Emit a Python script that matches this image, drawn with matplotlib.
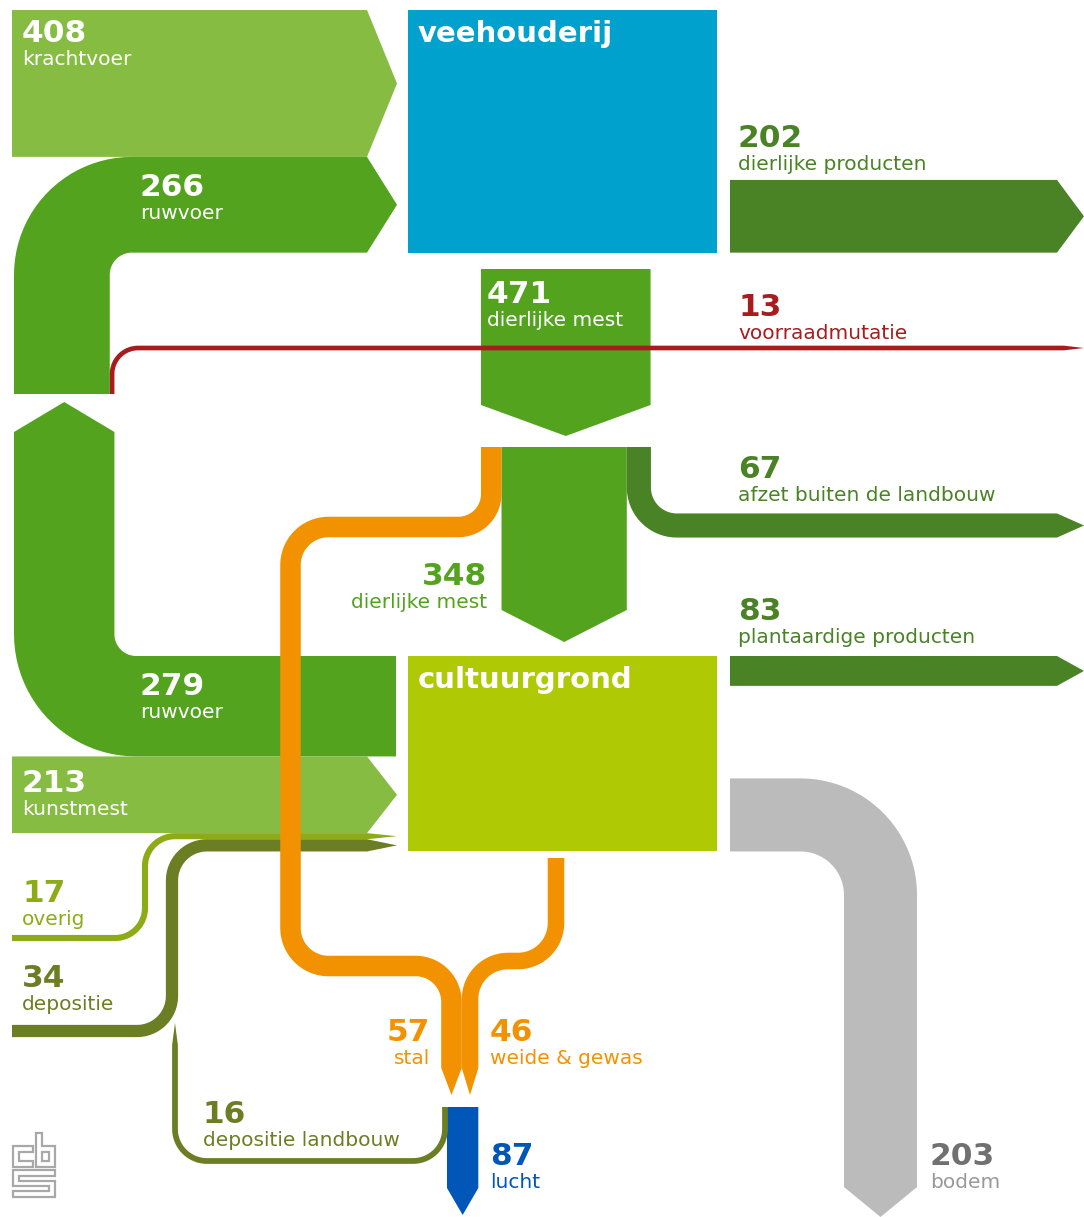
import numpy as np
import matplotlib
matplotlib.use("Agg")
import matplotlib.pyplot as plt
from matplotlib.patches import Polygon, Rectangle

# ---------------- data (mln kg stikstof) ----------------
node_names = ["veehouderij", "cultuurgrond"]
feed_labels = ["krachtvoer", "ruwvoer", "ruwvoer"]
feed_values = [408, 266, 279]
manure_labels = ["dierlijke mest", "dierlijke mest", "afzet buiten de landbouw"]
manure_values = [471, 348, 67]
product_labels = ["dierlijke producten", "plantaardige producten"]
product_values = [202, 83]
soil_input_labels = ["kunstmest", "overig", "depositie"]
soil_input_values = [213, 17, 34]
emission_labels = ["stal", "weide & gewas", "lucht", "depositie landbouw"]
emission_values = [57, 46, 87, 16]
other_labels = ["voorraadmutatie", "bodem"]
other_values = [13, 203]

# ---------------- style ----------------
C_LIGHT = "#86bc41"
C_MID = "#53a31f"
C_DARK = "#4a8226"
C_VEE = "#00a1cd"
C_CULT = "#afca05"
C_ORANGE = "#f39200"
C_RED = "#a81c1e"
C_OLIVE1 = "#8dab16"
C_OLIVE2 = "#6c7e24"
C_GRAY = "#bbbbbb"
C_BLUE = "#0057b7"

S = 0.36  # pixels per unit

fig = plt.figure(figsize=(10.84, 12.17), dpi=100)
ax = fig.add_axes([0, 0, 1, 1])
ax.set_xlim(0, 1084)
ax.set_ylim(1217, 0)
ax.axis("off")


def centerline(pts, radius):
    pts = [np.array(p, float) for p in pts]
    n = len(pts)
    if np.isscalar(radius):
        radius = [radius] * max(n - 2, 1)
    P, D = [], []
    d0 = pts[1] - pts[0]
    d0 /= np.linalg.norm(d0)
    P.append(pts[0]); D.append(d0)
    for i in range(1, n - 1):
        d1 = pts[i] - pts[i - 1]; d1 /= np.linalg.norm(d1)
        d2 = pts[i + 1] - pts[i]; d2 /= np.linalg.norm(d2)
        r = radius[i - 1]
        c = pts[i] - d1 * r + d2 * r
        for t in np.linspace(0, np.pi / 2, 24):
            P.append(c - d2 * r * np.cos(t) + d1 * r * np.sin(t))
            D.append(d1 * np.cos(t) + d2 * np.sin(t))
    dl = pts[-1] - pts[-2]
    dl /= np.linalg.norm(dl)
    P.append(pts[-1]); D.append(dl)
    return np.array(P), np.array(D)


def band(pts, value, color, radius=30, arrow=0, z=2):
    w = value * S
    P, D = centerline(pts, radius)
    N = np.stack([-D[:, 1], D[:, 0]], axis=1)
    left = P + N * w / 2
    right = P - N * w / 2
    poly = list(left)
    if arrow:
        poly.append(P[-1] + D[-1] * arrow)
    poly += list(right[::-1])
    ax.add_patch(Polygon(poly, closed=True, facecolor=color, edgecolor="none", zorder=z))


def label(x, y, num, txt, color, ha="left", sub_color=None):
    ax.text(x, y, str(num), color=color, fontsize=22.5, fontweight="bold", ha=ha,
            va="baseline", family="DejaVu Sans", zorder=10)
    ax.text(x, y + 23, txt, color=sub_color or color, fontsize=14.5, ha=ha,
            va="baseline", family="DejaVu Sans", zorder=10)


TOP = 10
BX0, BX1 = 408, 717
LEFT = 12
VX = 14
krv, ruw_up, ruw_low = feed_values
mest, mest_cult, afzet = manure_values
dprod, pprod = product_values
kunst, overig, depos = soil_input_values
stal, weide, lucht, deplb = emission_values
voorraad, bodem = other_values

VEE_Y1 = TOP + (krv + ruw_up) * S
CULT_Y0 = 656
CULT_Y1 = CULT_Y0 + (ruw_low + kunst + overig + depos) * S

# nodes
ax.add_patch(Rectangle((BX0, TOP), BX1 - BX0, VEE_Y1 - TOP, facecolor=C_VEE, zorder=3))
ax.add_patch(Rectangle((BX0, CULT_Y0), BX1 - BX0, CULT_Y1 - CULT_Y0, facecolor=C_CULT, zorder=3))
ax.text(BX0 + 10, TOP + 32, node_names[0], color="white", fontsize=21, fontweight="bold",
        family="DejaVu Sans", va="baseline", zorder=10)
ax.text(BX0 + 10, CULT_Y0 + 32, node_names[1], color="white", fontsize=21, fontweight="bold",
        family="DejaVu Sans", va="baseline", zorder=10)

# krachtvoer
yk = TOP + krv * S / 2
band([(LEFT, yk), (367, yk)], krv, C_LIGHT, arrow=30)
# ruwvoer into veehouderij
yr = TOP + krv * S + ruw_up * S / 2
xr = VX + ruw_up * S / 2
band([(xr, 394), (xr, yr), (367, yr)], ruw_up, C_MID, radius=70, arrow=30)
# voorraadmutatie
xv = VX + ruw_up * S + voorraad * S / 2
band([(xv, 394), (xv, 348), (1064, 348)], voorraad, C_RED, radius=26, arrow=20, z=6)
# ruwvoer from cultuurgrond
yl = CULT_Y0 + ruw_low * S / 2
xl = VX + ruw_low * S / 2
band([(396, yl), (xl, yl), (xl, 432)], ruw_low, C_MID, radius=72, arrow=30)
# kunstmest
yku = CULT_Y0 + ruw_low * S + kunst * S / 2
band([(LEFT, yku), (367, yku)], kunst, C_LIGHT, arrow=30)
# overig
yo = CULT_Y0 + (ruw_low + kunst) * S + overig * S / 2
band([(LEFT, 938), (145, 938), (145, yo), (367, yo)], overig, C_OLIVE1, radius=[30, 30], arrow=30)
# depositie
yd = CULT_Y0 + (ruw_low + kunst + overig) * S + depos * S / 2
band([(LEFT, 1031), (172, 1031), (172, yd), (367, yd)], depos, C_OLIVE2, radius=[35, 35], arrow=30)

# dierlijke producten
yp = VEE_Y1 - dprod * S / 2
band([(730, yp), (1057, yp)], dprod, C_DARK, arrow=27)
# dierlijke mest from veehouderij
MX0 = 481
xm = MX0 + mest * S / 2
band([(xm, 269), (xm, 405)], mest, C_MID, arrow=31)
# split
xs = MX0 + stal * S / 2
xmc = MX0 + stal * S + mest_cult * S / 2
xaf = MX0 + (stal + mest_cult) * S + afzet * S / 2
band([(xmc, 447), (xmc, 610)], mest_cult, C_MID, arrow=32)
band([(xaf, 447), (xaf, 525.5), (1057, 525.5)], afzet, C_DARK, radius=38, arrow=27)
# plantaardige producten
ypp = CULT_Y0 + pprod * S / 2
band([(730, ypp), (1057, ypp)], pprod, C_DARK, arrow=27)
# bodem
yb = CULT_Y1 - bodem * S / 2
band([(730, yb), (880.5, yb), (880.5, 1187)], bodem, C_GRAY, radius=80, arrow=30)

# lucht
LX0 = 447
xlu = LX0 + lucht * S / 2
band([(xlu, 1107), (xlu, 1188)], lucht, C_BLUE, arrow=27)
LX1 = LX0 + lucht * S
xst_b = LX1 - (stal + weide) * S + stal * S / 2
xwe_b = LX1 - weide * S / 2
# stal emissions
band([(xs, 447), (xs, 527), (290.5, 527), (290.5, 966), (xst_b, 966), (xst_b, 1068)],
     stal, C_ORANGE, radius=[33, 38, 38, 36], arrow=27, z=7)
# weide & gewas emissions
band([(556, 858), (556, 961), (xwe_b, 961), (xwe_b, 1068)], weide, C_ORANGE,
     radius=[38, 38], arrow=27, z=7)
# depositie landbouw
band([(LX0 - 2, 1107), (LX0 - 2, 1161), (175, 1161), (175, 1045)], deplb, C_OLIVE2,
     radius=[32, 32], arrow=22, z=5)

# labels
label(22, 42, krv, feed_labels[0], "white")
label(140, 196, ruw_up, feed_labels[1], "white")
label(140, 695, ruw_low, feed_labels[2], "white")
label(22, 792, kunst, soil_input_labels[0], "white")
label(22, 902, overig, soil_input_labels[1], C_OLIVE1)
label(22, 987, depos, soil_input_labels[2], C_OLIVE2)
label(738, 147, dprod, product_labels[0], C_DARK)
label(487, 303, mest, manure_labels[0], "white")
label(738, 316, voorraad, other_labels[0], C_RED)
label(738, 478, afzet, manure_labels[2], C_DARK)
label(487, 585, mest_cult, manure_labels[1], C_MID, ha="right")
label(738, 620, pprod, product_labels[1], C_DARK)
label(430, 1041, stal, emission_labels[0], C_ORANGE, ha="right")
label(490, 1041, weide, emission_labels[1], C_ORANGE)
label(490, 1165, lucht, emission_labels[2], C_BLUE)
label(203, 1123, deplb, emission_labels[3], C_OLIVE2)
label(930, 1165, bodem, other_labels[1], "#707070", sub_color="#999999")

# cbs logo
logo_kw = dict(closed=True, facecolor="white", edgecolor="#a8a8a8", lw=1.6, zorder=8)
ax.add_patch(Polygon([(13, 1146), (33, 1146), (33, 1152), (19, 1152), (19, 1161),
                      (33, 1161), (33, 1167), (13, 1167)], **logo_kw))
ax.add_patch(Polygon([(36, 1133), (42, 1133), (42, 1146), (55, 1146), (55, 1167),
                      (36, 1167)], **logo_kw))
ax.add_patch(Rectangle((42, 1152), 7, 9, facecolor="white", edgecolor="#a8a8a8", lw=1.6, zorder=9))
ax.add_patch(Polygon([(13, 1170), (55, 1170), (55, 1176), (19, 1176), (19, 1181),
                      (55, 1181), (55, 1197), (13, 1197), (13, 1191), (49, 1191),
                      (49, 1186), (13, 1186)], **logo_kw))

fig.savefig("out.png", dpi=100, facecolor="white")
